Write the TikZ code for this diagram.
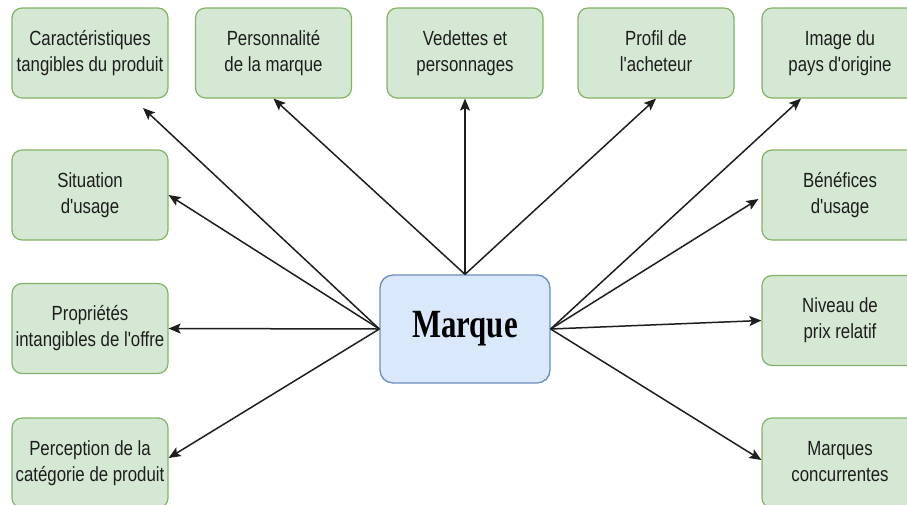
\documentclass[tikz,border=0pt]{standalone}
\usepackage{fontspec}
\usepackage{graphicx}
\setmainfont{Liberation Sans}
\newfontfamily\headfont{Liberation Serif}
\usetikzlibrary{arrows.meta,calc}

\definecolor{leaffill}{HTML}{D5E8D4}
\definecolor{leafline}{HTML}{82B366}
\definecolor{corefill}{HTML}{DAE8FC}
\definecolor{coreline}{HTML}{6C8EBF}
\definecolor{inkgray}{HTML}{1E1E1E}

% straight apostrophe
\newcommand{\ap}{\textquotesingle}
% narrow two-line label
\newcommand{\leaftext}[1]{\scalebox{0.82}[1]{\fontsize{20.5}{26}\selectfont
  \begin{tabular}{@{}c@{}}#1\end{tabular}}}

\tikzset{
  leaf/.style={draw=leafline, fill=leaffill, line width=1.2pt,
    rounded corners=10pt, minimum width=156pt, minimum height=90pt,
    inner sep=0pt, text=inkgray},
  core/.style={draw=coreline, fill=corefill, line width=1.3pt,
    rounded corners=13pt, minimum width=170pt, minimum height=108pt,
    inner sep=0pt},
  link/.style={draw=inkgray, line width=1.5pt,
    -{Stealth[length=12pt,width=10pt,inset=2.5pt]}}
}

\begin{document}
\begin{tikzpicture}[x=1pt,y=-1pt]
\useasboundingbox (0,0) rectangle (907,504);

% top row
\node[leaf] (car) at (90,53)  {\leaftext{Caractéristiques\\tangibles du produit}};
\node[leaf] (per) at (273.5,53) {\leaftext{Personnalité\\de la marque}};
\node[leaf] (ved) at (465,53) {\leaftext{Vedettes et\\personnages}};
\node[leaf] (pro) at (656,53) {\leaftext{Profil de\\l\ap acheteur}};
\node[leaf] (img) at (840,53) {\leaftext{Image du\\pays d\ap origine}};

% left column
\node[leaf] (sit) at (90,195)   {\leaftext{Situation\\d\ap usage}};
\node[leaf] (ppt) at (90,328.5) {\leaftext{Propriétés\\intangibles de l\ap offre}};
\node[leaf] (pcp) at (90,463)   {\leaftext{Perception de la\\catégorie de produit}};

% right column
\node[leaf] (ben) at (840,195)   {\leaftext{Bénéfices\\d\ap usage}};
\node[leaf] (niv) at (840,320.5) {\leaftext{Niveau de\\prix relatif}};
\node[leaf] (mcc) at (840,463)   {\leaftext{Marques\\concurrentes}};

% centre
\node[core] (mrq) at (465,329)
  {\scalebox{0.77}[1]{\headfont\bfseries\fontsize{40}{40}\selectfont Marque}};

\coordinate (cartip) at (143,108);

% links from the top edge
\draw[link] (mrq.north) -- (ved.south);
\draw[link] (mrq.north) -- (per.south);
\draw[link] (mrq.north) -- (pro.south);

% links from the left edge
\draw[link] (mrq.west) -- (cartip);
\draw[link] (mrq.west) -- (sit.east);
\draw[link] (mrq.west) -- (ppt.east);
\draw[link] (mrq.west) -- ([yshift=5pt]pcp.east);

% links from the right edge
\draw[link] (mrq.east) -- ([xshift=-39pt]img.south);
\draw[link] (mrq.east) -- ([xshift=-3pt,yshift=-4pt]ben.west);
\draw[link] (mrq.east) -- (niv.west);
\draw[link] (mrq.east) -- ([yshift=3pt]mcc.west);
\end{tikzpicture}
\end{document}
